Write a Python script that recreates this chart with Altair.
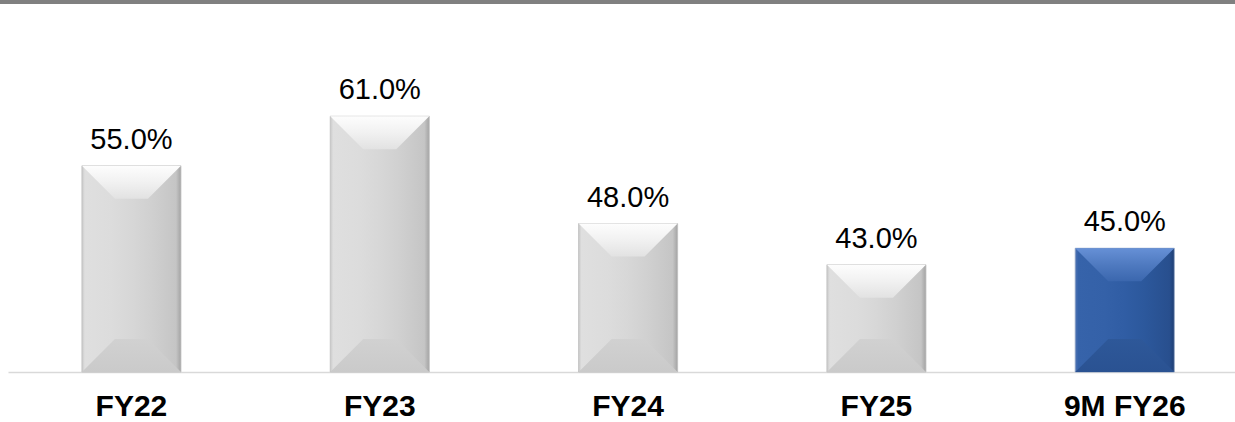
import altair as alt
import pandas as pd

categories = ["FY22", "FY23", "FY24", "FY25", "9M FY26"]
values = [55.0, 61.0, 48.0, 43.0, 45.0]
highlight = [False, False, False, False, True]

Y_MIN, Y_MAX = 30, 70

df = pd.DataFrame({"cat": categories, "value": values, "hl": highlight})

xenc = alt.X(
    "cat:N",
    sort=categories,
    scale=alt.Scale(paddingInner=0.601, paddingOuter=0.271, align=0.549),
    axis=alt.Axis(
        title=None,
        labelAngle=0,
        labelFont="Liberation Sans",
        labelFontSize=30,
        labelFontWeight="bold",
        labelColor="#000000",
        labelBaseline="alphabetic",
        labelPadding=43,
        ticks=False,
        tickSize=0,
        domainColor="#d9d9d9",
        domainWidth=1.5,
        grid=False,
    ),
)
yscale = alt.Scale(domain=[Y_MIN, Y_MAX], zero=False, nice=False)
yenc = alt.Y("value:Q", scale=yscale, axis=None)


def hgrad(stops):
    return {"gradient": "linear", "x1": 0, "x2": 1, "y1": 0, "y2": 0,
            "stops": [{"offset": o, "color": c} for o, c in stops]}


def vgrad(stops):
    return {"gradient": "linear", "x1": 0, "x2": 0, "y1": 0, "y2": 1,
            "stops": [{"offset": o, "color": c} for o, c in stops]}


styles = {
    False: dict(
        side=hgrad([(0, "#c8c8c8"), (0.03, "#dfdfdf"), (0.3, "#dcdcdc"), (0.5, "#d7d7d7"),
                    (0.7, "#d0d0d0"), (0.95, "#c5c5c5"), (1, "#a3a3a3")]),
        top=vgrad([(0, "#fdfdfd"), (0.5, "#f1f1f1"), (1, "#e2e2e2")]),
        bot=vgrad([(0, "#d1d1d1"), (1, "#cacaca")]),
        stroke="#c0c0c0",
    ),
    True: dict(
        side=hgrad([(0, "#4f74b4"), (0.03, "#3663aa"), (0.3, "#3461a8"), (0.5, "#305da4"),
                    (0.7, "#2c589c"), (0.95, "#284f8e"), (1, "#1e3e74")]),
        top=vgrad([(0, "#6690d6"), (0.5, "#4f7ac0"), (1, "#3b67ae")]),
        bot=vgrad([(0, "#2e5899"), (1, "#2a5292")]),
        stroke="#8fa3c4",
    ),
}

TOP_SHAPE = "M -1 0 L 1 0 L 0.333 0.667 L -0.333 0.667 Z"
BOT_SHAPE = "M -1 0 L 1 0 L 0.333 -0.667 L -0.333 -0.667 Z"
BAR_W = 99

base = alt.Chart(df)
layers = []
for flag in (False, True):
    st = styles[flag]
    filt = f"datum.hl == {'true' if flag else 'false'}"
    layers.append(
        base.transform_filter(filt)
        .mark_bar(fill=st["side"], stroke=st["stroke"], strokeWidth=0.8)
        .encode(x=xenc, y=yenc, y2=alt.Y2(datum=Y_MIN))
    )
    layers.append(
        base.transform_filter(filt)
        .mark_point(shape=TOP_SHAPE, size=BAR_W * BAR_W, filled=True, fill=st["top"],
                    opacity=1, strokeWidth=0)
        .encode(x=xenc, y=yenc)
    )
    layers.append(
        base.transform_filter(filt)
        .mark_point(shape=BOT_SHAPE, size=BAR_W * BAR_W, filled=True, fill=st["bot"],
                    opacity=1, strokeWidth=0)
        .encode(x=xenc, y=alt.Y(datum=Y_MIN, scale=yscale, axis=None))
    )

labels = (
    base.transform_calculate(label="format(datum.value, '.1f') + '%'")
    .mark_text(dy=-17, baseline="alphabetic", fontSize=29, font="Liberation Sans", color="#000000")
    .encode(x=xenc, y=yenc, text="label:N")
)
layers.append(labels)

top_rule = alt.Chart(df).mark_rule(color="#808080", strokeWidth=4).encode(
    x=alt.value(-8), x2=alt.value(1227), y=alt.value(-40)
)
layers.append(top_rule)

chart = (
    alt.layer(*layers)
    .properties(
        width=1227,
        height=330,
        autosize=alt.AutoSizeParams(type="none"),
        padding={"left": 8, "top": 42, "right": 0, "bottom": 50},
        background="white",
    )
    .configure_view(stroke=None)
)

chart.save("out.html", embed_options={"renderer": "svg", "actions": False})
